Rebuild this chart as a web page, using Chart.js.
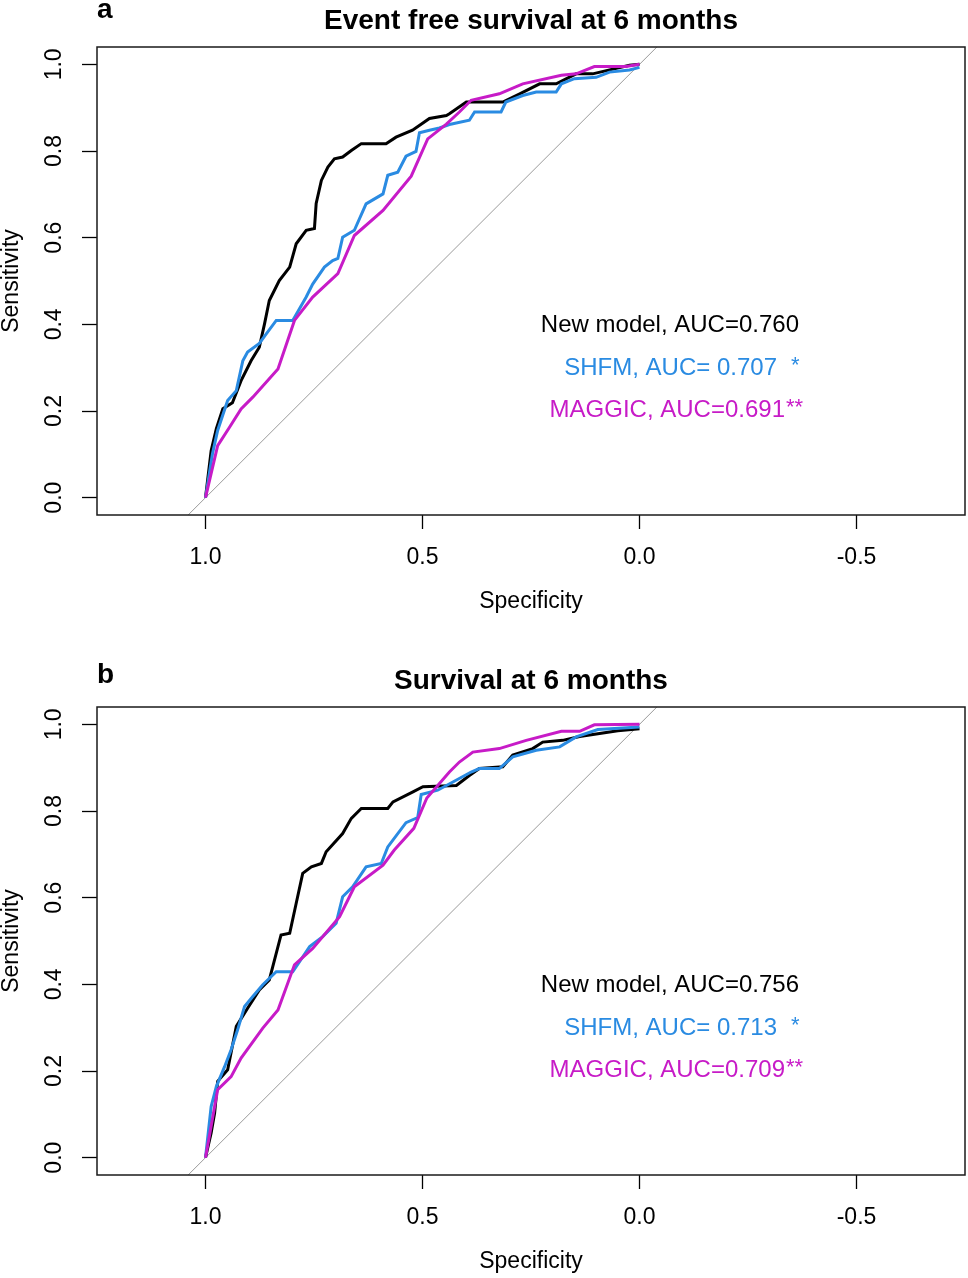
<!DOCTYPE html>
<html>
<head>
<meta charset="utf-8">
<script src="https://cdn.jsdelivr.net/npm/chart.js@4"></script>
<style>
  body { margin: 0; background: #fff; }
  canvas { position: absolute; left: 0; }
  #rocA { top: 0; }
  #rocB { top: 660px; }
</style>
</head>
<body>
<canvas id="rocA" width="968" height="640"></canvas>
<canvas id="rocB" width="968" height="618"></canvas>
<script>
// axis ticks
const specTicks = [1.0, 0.5, 0.0, -0.5];
const sensTicks = [0.0, 0.2, 0.4, 0.6, 0.8, 1.0];

// chance line
const diagSpec = [1.04, -0.04];
const diagSens = [-0.04, 1.04];

// panel a - event free survival at 6 months
const aNewSpec = [1.0, 0.987, 0.975, 0.96, 0.938, 0.918, 0.895, 0.876, 0.864, 0.853, 0.83, 0.806, 0.791, 0.768, 0.749, 0.745, 0.733, 0.718, 0.703, 0.684, 0.664, 0.641, 0.584, 0.561, 0.523, 0.484, 0.445, 0.438, 0.399, 0.315, 0.276, 0.230, 0.192, 0.146, 0.108, 0.023, 0.0];
const aNewSens = [0, 0.108, 0.159, 0.205, 0.219, 0.27, 0.316, 0.347, 0.401, 0.455, 0.501, 0.532, 0.586, 0.617, 0.621, 0.679, 0.732, 0.763, 0.782, 0.786, 0.801, 0.817, 0.817, 0.832, 0.848, 0.875, 0.882, 0.886, 0.913, 0.913, 0.932, 0.955, 0.955, 0.978, 0.978, 0.998, 1.0];
const aShfmSpec = [1.0, 0.984, 0.972, 0.949, 0.929, 0.914, 0.903, 0.876, 0.86, 0.837, 0.799, 0.768, 0.753, 0.726, 0.707, 0.695, 0.684, 0.657, 0.63, 0.591, 0.58, 0.557, 0.538, 0.515, 0.507, 0.484, 0.461, 0.438, 0.392, 0.380, 0.319, 0.308, 0.269, 0.238, 0.192, 0.180, 0.150, 0.100, 0.069, 0.023, 0.0];
const aShfmSens = [0, 0.101, 0.155, 0.224, 0.247, 0.316, 0.336, 0.356, 0.378, 0.409, 0.409, 0.463, 0.493, 0.532, 0.547, 0.552, 0.601, 0.617, 0.678, 0.701, 0.744, 0.751, 0.788, 0.799, 0.842, 0.848, 0.853, 0.861, 0.871, 0.890, 0.890, 0.913, 0.928, 0.936, 0.936, 0.955, 0.967, 0.970, 0.982, 0.987, 0.993];
const aMagSpec = [1.0, 0.972, 0.945, 0.918, 0.891, 0.833, 0.795, 0.753, 0.695, 0.657, 0.591, 0.526, 0.488, 0.445, 0.415, 0.388, 0.323, 0.269, 0.180, 0.146, 0.104, 0.031, 0.0];
const aMagSens = [0, 0.12, 0.162, 0.205, 0.232, 0.297, 0.409, 0.463, 0.517, 0.605, 0.663, 0.742, 0.828, 0.862, 0.890, 0.917, 0.932, 0.955, 0.975, 0.978, 0.995, 0.995, 1.0];

// panel b - survival at 6 months
const bNewSpec = [1.0, 0.987, 0.979, 0.972, 0.949, 0.929, 0.903, 0.876, 0.853, 0.845, 0.826, 0.806, 0.791, 0.776, 0.756, 0.733, 0.722, 0.684, 0.664, 0.641, 0.580, 0.568, 0.522, 0.499, 0.422, 0.392, 0.369, 0.315, 0.292, 0.246, 0.223, 0.177, 0.138, 0.092, 0.050, 0.0];
const bNewSens = [0, 0.057, 0.103, 0.176, 0.203, 0.303, 0.345, 0.387, 0.410, 0.441, 0.514, 0.518, 0.587, 0.656, 0.671, 0.679, 0.706, 0.748, 0.783, 0.806, 0.806, 0.821, 0.844, 0.856, 0.859, 0.882, 0.898, 0.902, 0.929, 0.944, 0.959, 0.963, 0.972, 0.979, 0.985, 0.99];
const bShfmSpec = [1.0, 0.987, 0.975, 0.956, 0.941, 0.926, 0.910, 0.891, 0.868, 0.837, 0.799, 0.760, 0.730, 0.699, 0.684, 0.661, 0.630, 0.595, 0.580, 0.538, 0.511, 0.503, 0.465, 0.430, 0.388, 0.369, 0.323, 0.292, 0.238, 0.184, 0.146, 0.096, 0.0];
const bShfmSens = [0, 0.118, 0.164, 0.210, 0.249, 0.295, 0.349, 0.372, 0.399, 0.429, 0.429, 0.487, 0.510, 0.541, 0.602, 0.625, 0.671, 0.679, 0.717, 0.773, 0.785, 0.838, 0.848, 0.867, 0.890, 0.898, 0.898, 0.925, 0.940, 0.948, 0.971, 0.988, 0.994];
const bMagSpec = [1.0, 0.972, 0.941, 0.918, 0.868, 0.833, 0.795, 0.753, 0.691, 0.657, 0.591, 0.565, 0.520, 0.490, 0.438, 0.415, 0.384, 0.323, 0.261, 0.180, 0.138, 0.104, 0.0];
const bMagSens = [0, 0.157, 0.187, 0.230, 0.299, 0.341, 0.445, 0.483, 0.556, 0.625, 0.675, 0.710, 0.760, 0.830, 0.890, 0.913, 0.936, 0.944, 0.963, 0.984, 0.984, 0.999, 1.0];

const BLACK = "#000000";
const BLUE = "#2a8be2";
const MAGENTA = "#c71bc7";
const FONT = "'Liberation Sans', Arial, Helvetica, sans-serif";

function pts(xs, ys) {
  return xs.map(function (x, i) { return { x: x, y: ys[i] }; });
}

// title, panel letter, box and the AUC text
const rocText = {
  id: "rocText",
  afterDraw: function (chart, args, opts) {
    const ctx = chart.ctx;
    const area = chart.chartArea;
    ctx.save();
    ctx.strokeStyle = "#1a1a1a";
    ctx.lineWidth = 1.5;
    ctx.strokeRect(area.left, area.top, area.right - area.left, area.bottom - area.top);

    ctx.fillStyle = "#000";
    ctx.textBaseline = "alphabetic";
    ctx.font = "bold 28px " + FONT;
    ctx.textAlign = "left";
    ctx.fillText(opts.panel, 97, opts.panelY);
    ctx.textAlign = "center";
    ctx.fillText(opts.title, (area.left + area.right) / 2, 29);

    ctx.font = "24px " + FONT;
    ctx.textAlign = "right";
    ctx.fillStyle = BLACK;
    ctx.fillText(opts.auc[0], 799, 332);
    ctx.fillStyle = BLUE;
    ctx.fillText(opts.auc[1], 777, 375);
    ctx.fillStyle = MAGENTA;
    ctx.fillText(opts.auc[2], 785, 417);

    ctx.font = "22px " + FONT;
    ctx.textAlign = "left";
    ctx.fillStyle = BLUE;
    ctx.fillText("*", 791, 372);
    ctx.fillStyle = MAGENTA;
    ctx.fillText("**", 786, 414);
    ctx.restore();
  }
};

function makeRoc(id, panel, panelY, title, auc, curves, bottomPad) {
  new Chart(document.getElementById(id), {
    type: "line",
    data: {
      datasets: [
        { label: "MAGGIC", data: pts(curves[2][0], curves[2][1]), borderColor: MAGENTA, borderWidth: 3, order: 1 },
        { label: "SHFM", data: pts(curves[1][0], curves[1][1]), borderColor: BLUE, borderWidth: 3, order: 2 },
        { label: "New model", data: pts(curves[0][0], curves[0][1]), borderColor: BLACK, borderWidth: 3, order: 3 },
        { label: "chance", data: pts(diagSpec, diagSens), borderColor: "#9a9a9a", borderWidth: 1, order: 4 }
      ]
    },
    options: {
      responsive: false,
      animation: false,
      layout: { padding: { top: 47, right: 3, left: 0, bottom: bottomPad } },
      elements: { point: { radius: 0 }, line: { tension: 0, fill: false } },
      plugins: {
        legend: { display: false },
        tooltip: { enabled: false },
        rocText: { panel: panel, panelY: panelY, title: title, auc: auc }
      },
      scales: {
        x: {
          type: "linear",
          reverse: true,
          min: -0.75,
          max: 1.25,
          afterBuildTicks: function (scale) { scale.ticks = specTicks.map(function (v) { return { value: v }; }); },
          afterFit: function (scale) { scale.height = 98; },
          grid: { drawOnChartArea: false, drawTicks: true, tickLength: 14, tickColor: "#000", tickWidth: 1.3 },
          border: { display: false },
          ticks: {
            autoSkip: false, maxRotation: 0, padding: 15, color: "#000",
            font: { family: FONT, size: 23 },
            callback: function (v) { return v.toFixed(1); }
          },
          title: { display: true, text: "Specificity", color: "#000", padding: 0, font: { family: FONT, size: 23, lineHeight: 1 } }
        },
        y: {
          type: "linear",
          min: -0.04,
          max: 1.04,
          afterBuildTicks: function (scale) { scale.ticks = sensTicks.map(function (v) { return { value: v }; }); },
          afterFit: function (scale) { scale.width = 97; },
          grid: { drawOnChartArea: false, drawTicks: true, tickLength: 15, tickColor: "#000", tickWidth: 1.3 },
          border: { display: false },
          ticks: {
            autoSkip: false, minRotation: 90, maxRotation: 90, crossAlign: "center", padding: 11, color: "#000",
            font: { family: FONT, size: 23 },
            callback: function (v) { return v.toFixed(1); }
          },
          title: { display: true, text: "Sensitivity", color: "#000", padding: 0, font: { family: FONT, size: 23, lineHeight: 1 } }
        }
      }
    },
    plugins: [rocText]
  });
}

makeRoc("rocA", "a", 18, "Event free survival at 6 months",
  ["New model, AUC=0.760", "SHFM, AUC= 0.707", "MAGGIC, AUC=0.691"],
  [[aNewSpec, aNewSens], [aShfmSpec, aShfmSens], [aMagSpec, aMagSens]], 27);

makeRoc("rocB", "b", 23, "Survival at 6 months",
  ["New model, AUC=0.756", "SHFM, AUC= 0.713", "MAGGIC, AUC=0.709"],
  [[bNewSpec, bNewSens], [bShfmSpec, bShfmSens], [bMagSpec, bMagSens]], 5);
</script>
</body>
</html>
